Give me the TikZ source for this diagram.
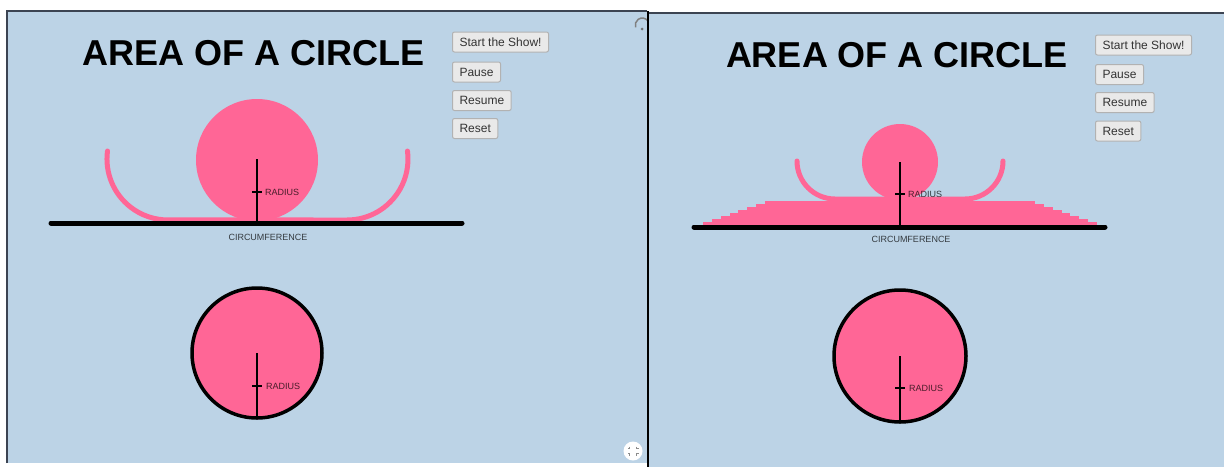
\documentclass[tikz,border=0pt]{standalone}
\usepackage{fontspec}
\setmainfont{Liberation Sans}
\definecolor{bg}{RGB}{188,211,230}
\definecolor{hpink}{RGB}{255,102,150}
\definecolor{btnfill}{RGB}{233,233,233}
\definecolor{btnline}{RGB}{178,178,178}
\definecolor{frame}{RGB}{60,68,82}
\tikzset{
  btn/.style={draw=btnline, fill=btnfill, rounded corners=2pt, line width=1pt,
    minimum height=20pt, inner xsep=7pt, inner ysep=0pt, text height=8.6pt, text depth=0pt,
    anchor=west, font=\fontsize{12}{14}\selectfont, text=black!80},
  ttl/.style={font=\fontsize{36}{40}\selectfont\bfseries, anchor=base, inner sep=0pt},
  lbl/.style={font=\fontsize{9}{10}\selectfont, text=black, text opacity=0.72, inner sep=0pt},
  unroll/.style={draw=hpink, line width=5pt, line cap=round},
  baseln/.style={line width=5pt, line cap=round},
  radln/.style={line width=2pt},
  disc/.style={draw=black, line width=3.5pt, fill=hpink},
}
\begin{document}
\begin{tikzpicture}[x=1pt,y=-1pt]
\useasboundingbox (0,0) rectangle (1224,467);
\fill[white] (0,0) rectangle (1224,467);
% ---------- left panel ----------
\fill[bg] (7,11) rectangle (647,463);
\draw[frame, line width=1.2pt] (7,463) -- (7,11) -- (647,11);
\node[ttl] (t1) at (253.5,65) {AREA OF A CIRCLE};
\node[btn] (s1) at (452,42) {Start the Show!};
\node[btn] (p1) at (452,72) {Pause};
\node[btn] (m1) at (452,100.5) {Resume};
\node[btn] (r1) at (452,128.5) {Reset};
% rolling circle
\fill[hpink] (257,160) circle[radius=61];
\draw[unroll] (107.5,151) arc[start angle=187.5, end angle=90, radius=61] -- (347,220)
  arc[start angle=90, end angle=-7.5, radius=61];
\coordinate (c1) at (257,159);
\coordinate (b1) at (257,223);
\draw[baseln] (51,223) -- (462,223);
\draw[radln] (c1) -- (b1);
\draw[radln] (252,192) -- (262,192);
\node[lbl, anchor=west] (rad1) at (265,192) {RADIUS};
\node[lbl] (cf1) at (268,237) {CIRCUMFERENCE};
% lower circle
\draw[disc] (257,353) circle[radius=65];
\coordinate (c2) at (257,353);
\coordinate (b2) at (257,418);
\draw[radln] (c2) -- (b2);
\draw[radln] (252,386) -- (262,386);
\node[lbl, anchor=west] (rad2) at (266,386) {RADIUS};
% icons
\fill[white] (633,451) circle[radius=9.5];
\begin{scope}[draw=black!45, line width=0.9pt]
  \draw (629.5,446.5) -- (629.5,448.5) -- (627.5,448.5);
  \draw (636.5,446.5) -- (636.5,448.5) -- (638.5,448.5);
  \draw (629.5,455.5) -- (629.5,453.5) -- (627.5,453.5);
  \draw (636.5,455.5) -- (636.5,453.5) -- (638.5,453.5);
\end{scope}
\draw[black!50, line width=1.5pt] (648,21) arc[start angle=-35, end angle=-200, radius=7];
\fill[black!55] (642,29) circle[radius=1.5];
% ---------- right panel ----------
\fill[bg] (648,13) rectangle (1224,467);
\draw[frame, line width=1.2pt] (648,13) -- (1224,13);
\draw[black, line width=2pt] (647.5,11) -- (647.5,467);
\node[ttl] (t2) at (897,67) {AREA OF A CIRCLE};
\node[btn] (s2) at (1095,45) {Start the Show!};
\node[btn] (p2) at (1095,74.5) {Pause};
\node[btn] (m2) at (1095,102.5) {Resume};
\node[btn] (r2) at (1095,131) {Reset};
% unrolled rings (stairs)
\foreach \i in {0,...,7}
  \fill[hpink] ({703+8.86*\i},225) rectangle ({1097-8.86*\i},{225-3*(\i+1)});
\draw[unroll] (797,161) arc[start angle=180, end angle=90, radius=38] -- (965,199)
  arc[start angle=90, end angle=0, radius=38];
\fill[hpink] (900,162) circle[radius=38];
\coordinate (c3) at (900,162);
\coordinate (b3) at (900,227);
\draw[baseln] (694,227) -- (1105,227);
\draw[radln] (c3) -- (b3);
\draw[radln] (895,194) -- (905,194);
\node[lbl, anchor=west] (rad3) at (908,194) {RADIUS};
\node[lbl] (cf2) at (911,239) {CIRCUMFERENCE};
% lower circle
\draw[disc] (900,356) circle[radius=66];
\coordinate (c4) at (900,356);
\coordinate (b4) at (900,422);
\draw[radln] (c4) -- (b4);
\draw[radln] (895,388) -- (905,388);
\node[lbl, anchor=west] (rad4) at (909,388) {RADIUS};
\end{tikzpicture}
\end{document}
